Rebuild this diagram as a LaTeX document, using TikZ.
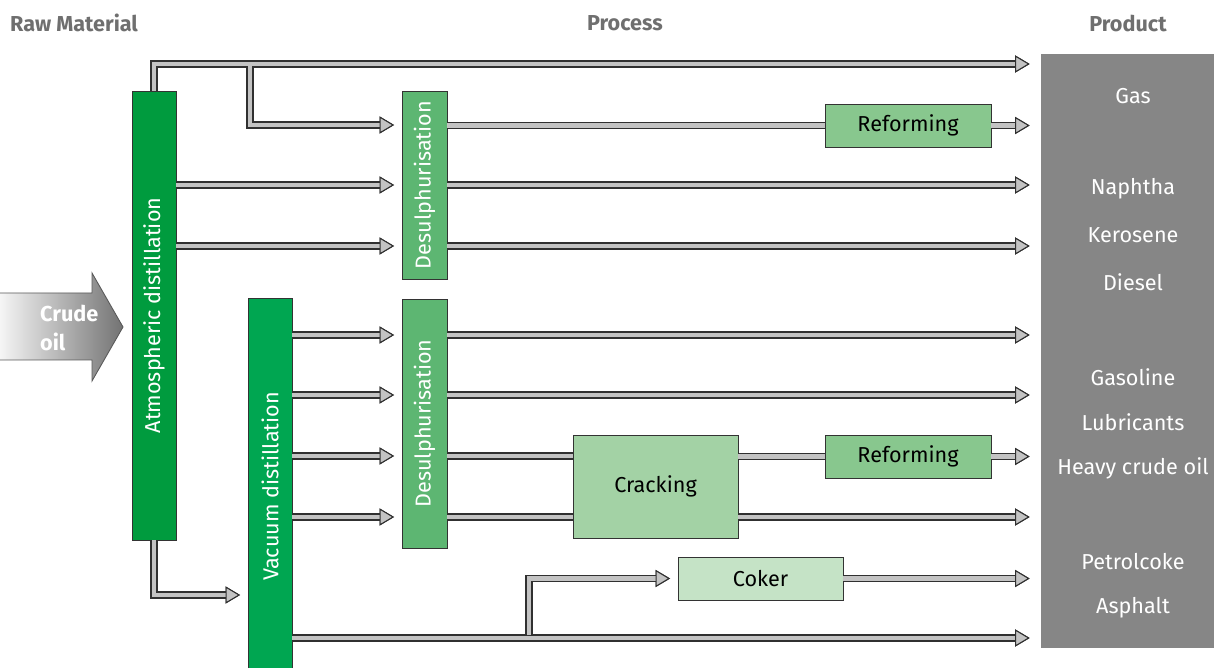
\documentclass[tikz,border=0pt]{standalone}
\usepackage{fontspec}
\setmainfont{Fira Sans}
\usetikzlibrary{arrows.meta}

\definecolor{atmgreen}{HTML}{009B3E}
\definecolor{vacgreen}{HTML}{00A651}
\definecolor{desgreen}{HTML}{5DB672}
\definecolor{refgreen}{HTML}{88C78E}
\definecolor{crkgreen}{HTML}{A3D2A5}
\definecolor{cokgreen}{HTML}{C5E3C6}
\definecolor{prodgray}{HTML}{868686}
\definecolor{headgray}{HTML}{6F6F6F}
\definecolor{pipefill}{HTML}{C3C3C3}
\definecolor{pipeline}{HTML}{303030}

\newdimen\pxu \pxu=0.02cm

\begin{document}
\begin{tikzpicture}[x=0.02cm, y=-0.02cm,
    txt/.style={font=\fontsize{12.3}{14}\selectfont},
    head/.style={txt, font=\fontsize{12.3}{14}\selectfont\bfseries, text=headgray},
    box/.style={txt, draw=black!80, line width=0.5pt, inner sep=0pt},
    pipe/.style={draw=pipefill, line width=0.094cm,
      preaction={draw=pipeline, line width=0.15cm}},
    pipeend/.style={-{Triangle[length=0.29cm, width=0.34cm, line width=0.6pt,
      color=pipeline, fill=pipefill]}, shorten >=0.15cm},
    prodend/.style={pipeend, shorten >=0.22cm}]
  \useasboundingbox (0,0) rectangle (1214,668);
  % Headers
  \node[head, anchor=west] (raw) at (4,23) {Raw Material};
  \node[head] (proc) at (625,23) {Process};
  \node[head] (prodh) at (1128,23) {Product};
  % Boxes
  \node[box, fill=atmgreen, text=white, minimum width=44*\pxu, minimum height=449*\pxu]
    (atm) at (154,315.5) {\rotatebox{90}{Atmospheric distillation}};
  \node[box, fill=vacgreen, text=white, minimum width=44*\pxu, minimum height=377*\pxu]
    (vac) at (270,486.5) {\rotatebox{90}{Vacuum distillation}};
  \node[box, fill=desgreen, text=white, minimum width=45*\pxu, minimum height=188*\pxu]
    (des1) at (424.5,185) {\rotatebox{90}{Desulphurisation}};
  \node[box, fill=desgreen, text=white, minimum width=45*\pxu, minimum height=249*\pxu]
    (des2) at (424.5,423.5) {\rotatebox{90}{Desulphurisation}};
  \node[box, fill=refgreen, minimum width=166*\pxu, minimum height=43*\pxu]
    (ref1) at (908,125.5) {Reforming};
  \node[box, fill=refgreen, minimum width=166*\pxu, minimum height=43*\pxu]
    (ref2) at (908,456.5) {Reforming};
  \node[box, fill=crkgreen, minimum width=165*\pxu, minimum height=103*\pxu]
    (crk) at (655.5,486.5) {Cracking};
  \node[box, fill=cokgreen, minimum width=165*\pxu, minimum height=43*\pxu]
    (cok) at (760.5,578.5) {Coker};
  \node[fill=prodgray, minimum width=173*\pxu, minimum height=594*\pxu, inner sep=0pt]
    (prod) at (1127.5,351) {};
  \foreach \t/\y [count=\i] in {Gas/96, Naphtha/189, Kerosene/235, Diesel/282,
      Gasoline/377, Lubricants/422, Heavy crude oil/468, Petrolcoke/562, Asphalt/608}
    \node[txt, text=white] (p\i) at (1133,\y) {\t};
  % Crude oil
  \shade[left color=gray!8, middle color=black!42, right color=black!55,
      draw=black!65, line width=0.5pt]
    (0,293) -- (92,293) -- (92,273) -- (123,327) -- (92,381) -- (92,360) -- (0,360);
  \node[txt, font=\fontsize{12.3}{17}\selectfont\bfseries, text=white, anchor=west,
      align=left] (crude) at (34,328) {Crude\\oil};
  % Pipes
  \coordinate (j1) at (250,66.5);
  \coordinate (j2) at (529,635.5);
  \draw[pipe, prodend] (atm.north) |- (prod.west |- 0,64);
  \draw[pipe, pipeend] (j1) |- (des1.west |- 0,125);
  \draw[pipe] (des1.east |- ref1.west) -- (ref1.west);
  \draw[pipe, prodend] (ref1.east) -- (prod.west |- ref1.east);
  \foreach \y in {185,246} {
    \draw[pipe, pipeend] (atm.east |- 0,\y) -- (des1.west |- 0,\y);
    \draw[pipe, prodend] (des1.east |- 0,\y) -- (prod.west |- 0,\y);
  }
  \draw[pipe, pipeend] (atm.south) |- (vac.west |- 0,595);
  \foreach \y in {335,395,456,517}
    \draw[pipe, pipeend] (vac.east |- 0,\y) -- (des2.west |- 0,\y);
  \foreach \y in {335,395}
    \draw[pipe, prodend] (des2.east |- 0,\y) -- (prod.west |- 0,\y);
  \draw[pipe] (des2.east |- 0,456) -- (crk.west |- 0,456);
  \draw[pipe] (crk.east |- ref2.west) -- (ref2.west);
  \draw[pipe, prodend] (ref2.east) -- (prod.west |- ref2.east);
  \draw[pipe] (des2.east |- 0,517) -- (crk.west |- 0,517);
  \draw[pipe, prodend] (crk.east |- 0,517) -- (prod.west |- 0,517);
  \draw[pipe, prodend] (vac.east |- 0,638) -- (prod.west |- 0,638);
  \draw[pipe, pipeend] (j2) |- (cok.west);
  \draw[pipe, prodend] (cok.east) -- (prod.west |- cok.east);
\end{tikzpicture}
\end{document}
